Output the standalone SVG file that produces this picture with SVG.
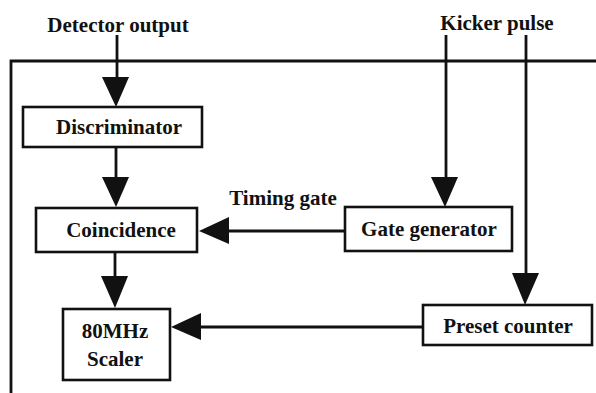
<svg xmlns="http://www.w3.org/2000/svg" width="596" height="393" viewBox="0 0 596 393">
<defs>
<style>
.box{fill:#fff;stroke:#111;stroke-width:2.6}
.ln{fill:none;stroke:#111;stroke-width:2.8}
.ah{fill:#111}
text{font-family:"Liberation Serif","Times New Roman",serif;font-weight:bold;font-size:21px;fill:#111;text-anchor:middle}
</style>
</defs>
<rect width="596" height="393" fill="#fff"/>
<g id="frame">
<path class="ln" d="M11,393 V61 H596" stroke-width="3"/>
</g>
<g id="connectors">
<path class="ln" d="M117,35 V80"/>
<polygon class="ah" points="102,77 129,77 116,107"/>
<path class="ln" d="M116,147 V180"/>
<polygon class="ah" points="102,177 129,177 116,207"/>
<path class="ln" d="M115,252 V279"/>
<polygon class="ah" points="101,276 128,276 115,308"/>
<path class="ln" d="M345,231 H226"/>
<polygon class="ah" points="229,217 229,244 199,231"/>
<path class="ln" d="M423,327 H198"/>
<polygon class="ah" points="201,313 201,340 171,327"/>
<path class="ln" d="M446,35 V180"/>
<polygon class="ah" points="431,177 458,177 445,207"/>
<path class="ln" d="M526,35 V276"/>
<polygon class="ah" points="512,273 539,273 525,305"/>
</g>
<g id="label-detector"><text x="118" y="32">Detector output</text></g>
<g id="label-kicker"><text x="497" y="30">Kicker pulse</text></g>
<g id="label-timing"><text x="283" y="205">Timing gate</text></g>
<g id="discriminator">
<rect class="box" x="23" y="107" width="179" height="40"/>
<text x="119" y="134">Discriminator</text>
</g>
<g id="coincidence">
<rect class="box" x="36" y="208" width="161" height="44"/>
<text x="121" y="237">Coincidence</text>
</g>
<g id="scaler">
<rect class="box" x="63" y="309" width="107" height="71"/>
<text x="115" y="338">80MHz</text>
<text x="115" y="366">Scaler</text>
</g>
<g id="gate-generator">
<rect class="box" x="345" y="207" width="167" height="44"/>
<text x="429" y="236">Gate generator</text>
</g>
<g id="preset-counter">
<rect class="box" x="423" y="305" width="169" height="40"/>
<text x="508" y="333">Preset counter</text>
</g>
</svg>
